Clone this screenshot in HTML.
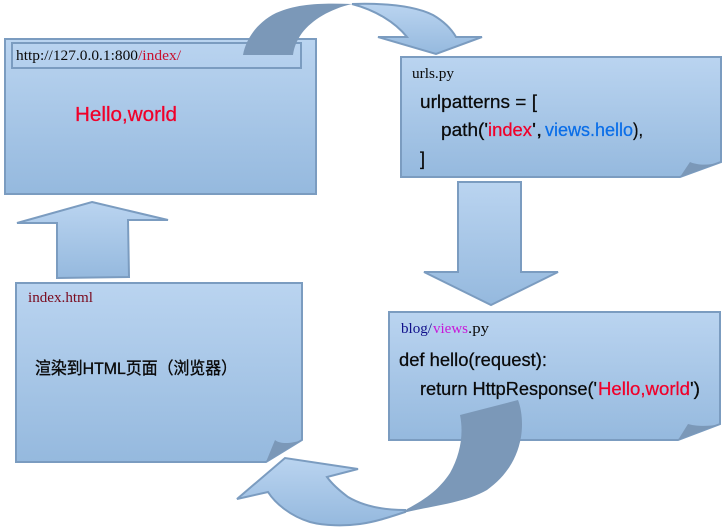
<!DOCTYPE html>
<html>
<head>
<meta charset="utf-8">
<style>
html,body{margin:0;padding:0;background:#fff;width:725px;height:527px;overflow:hidden}
svg{display:block;filter:blur(.35px)}
text{font-family:"Liberation Sans","Noto Sans CJK SC",sans-serif;font-size:18px;fill:#0a0a0a;stroke:#0a0a0a;stroke-width:.25px}
.s{font-family:"Liberation Serif","Noto Serif CJK SC",serif;font-size:15px;stroke:none}
.r{fill:#f0002a;stroke:#f0002a}
.b{fill:#0a6ee8;stroke:#0a6ee8}
</style>
</head>
<body>
<svg width="725" height="527" viewBox="0 0 725 527" xmlns="http://www.w3.org/2000/svg">
<defs>
<linearGradient id="g" x1="0" y1="0" x2="0" y2="1">
<stop offset="0" stop-color="#bad4f0"/>
<stop offset="1" stop-color="#95b9de"/>
</linearGradient>
</defs>
<g stroke="#7b9cc0" stroke-width="2" fill="url(#g)" stroke-linejoin="miter">
<!-- browser box -->
<rect x="5" y="39" width="311" height="155"/>
<rect x="12" y="43" width="289" height="25" fill="none"/>
<!-- urls box -->
<path d="M401 57H721V162L680 177H401Z"/>
<!-- views box -->
<path d="M389 312H720V424L678 440H389Z"/>
<!-- index box -->
<path d="M16 283H302V440L266 462H16Z"/>
<!-- down arrow -->
<path d="M458 182H521V272H558L491 305L424 272H458Z"/>
<!-- up arrow -->
<path d="M92 202L168 220H128L129 277L57 278V223H17Z"/>
<!-- top arrow light -->
<path d="M352 4C385 3 415 6 433 15C445 22 452 30 456 37H482L436 54L378 37H407C395 22 375 10 352 4Z"/>
<!-- bottom arrow light -->
<path d="M405 510C385 510 365 507 348 497C340 491 332 484 327 477L358 469L285 458L237 499L268 492C275 503 290 516 310 522C325 526 345 526 360 524C375 522 390 517 405 512Z"/>
</g>
<g fill="#7b98b8" stroke="none">
<path d="M690 162C697 165 708 166 721 162L680 177Z"/>
<path d="M688 424C695 426 708 427 720 424L678 440Z"/>
<path d="M275 440C280 444 290 444 302 440L266 462Z"/>
<!-- top arrow dark -->
<path d="M243 55C246 38 258 22 276 13C298 3 325 3 352 4C330 9 312 20 302 33C297 40 294 47 293 55Z"/>
<!-- bottom arrow dark -->
<path d="M460 415L518 400C522 410 523 425 521 437C517 460 505 477 487 490C465 503 430 506 403 513L407 509C428 498 440 488 450 473C460 455 464 435 460 415Z"/>
</g>

<text class="s" x="16" y="60" textLength="122" lengthAdjust="spacingAndGlyphs">http://127.0.0.1:800</text>
<text class="s" x="138" y="60" textLength="43" lengthAdjust="spacingAndGlyphs" style="fill:#c8102e">/index/</text>
<text class="r" x="75" y="121" textLength="102" lengthAdjust="spacingAndGlyphs" style="font-size:20px">Hello,world</text>

<text class="s" x="412" y="78" textLength="42" lengthAdjust="spacingAndGlyphs">urls.py</text>
<text x="420" y="108" textLength="117" lengthAdjust="spacingAndGlyphs">urlpatterns = [</text>
<text x="441" y="136" textLength="47" lengthAdjust="spacingAndGlyphs">path('</text>
<text class="r" x="488" y="136" textLength="44" lengthAdjust="spacingAndGlyphs">index</text>
<text x="532" y="136" textLength="10" lengthAdjust="spacingAndGlyphs">',</text>
<text class="b" x="545" y="136" textLength="88" lengthAdjust="spacingAndGlyphs">views.hello</text>
<text x="633" y="136" textLength="10" lengthAdjust="spacingAndGlyphs">),</text>
<text x="420" y="165">]</text>

<text class="s" x="401" y="333" textLength="31" lengthAdjust="spacingAndGlyphs" style="fill:#10108a">blog/</text>
<text class="s" x="433" y="333" textLength="35" lengthAdjust="spacingAndGlyphs" style="fill:#c818d8">views</text>
<text class="s" x="468" y="333" textLength="21" lengthAdjust="spacingAndGlyphs">.py</text>
<text x="399" y="366" textLength="148" lengthAdjust="spacingAndGlyphs">def hello(request):</text>
<text x="420" y="395" textLength="177" lengthAdjust="spacingAndGlyphs">return HttpResponse('</text>
<text class="r" x="598" y="395" textLength="92" lengthAdjust="spacingAndGlyphs">Hello,world</text>
<text x="690" y="395" textLength="10" lengthAdjust="spacingAndGlyphs">')</text>

<text class="s" x="28" y="302" textLength="65" lengthAdjust="spacingAndGlyphs" style="fill:#7a0a1e">index.html</text>
<text x="35" y="374" textLength="202" lengthAdjust="spacingAndGlyphs" style="font-size:17px;stroke-width:.35px">渲染到HTML页面（浏览器）</text>
</svg>
</body>
</html>
